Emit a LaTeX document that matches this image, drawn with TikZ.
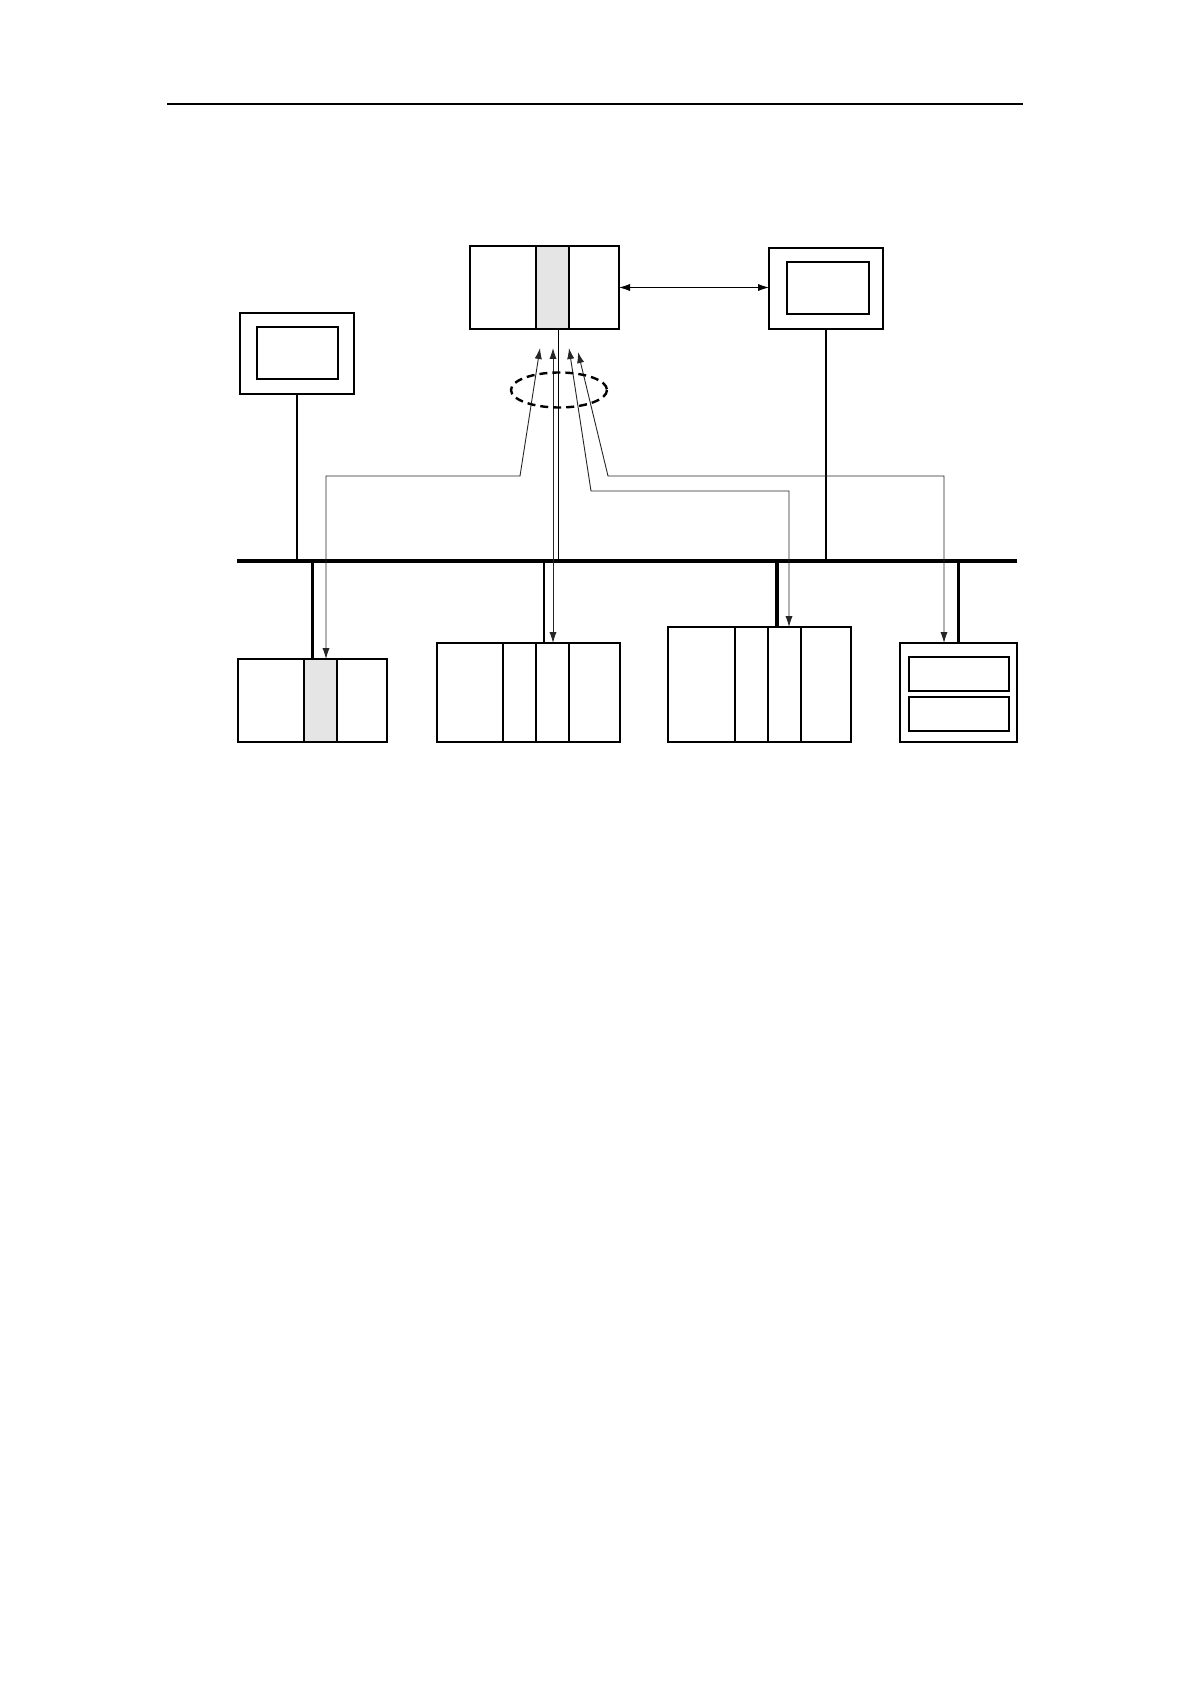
\documentclass[tikz,border=0pt]{standalone}
\usepackage{tikz}
\usetikzlibrary{arrows.meta,positioning}
\definecolor{slotgray}{gray}{0.9}
\tikzset{
  unit/.style={draw, line width=1.4pt, inner sep=0pt, outer sep=0pt, anchor=north west},
  slotline/.style={line width=1pt},
  stem/.style={line width=0.9pt},
  heavystem/.style={line width=1.6pt},
  route/.style={line width=0.45pt, black!85, {Latex[length=5.5pt,width=3.6pt]}-{Latex[length=5.5pt,width=3.6pt]}},
}
\begin{document}
\begin{tikzpicture}[x=0.5pt,y=-0.5pt]
    \useasboundingbox (0,0) rectangle (1190,1684);
    %%Top rule
    \draw[line width=0.6pt] (167,104) to (1023,104);
    %%Controller and monitors
    \node[unit, minimum width=74.5pt, minimum height=41.5pt] (plc) at (470,246) {};
    \filldraw[fill=slotgray, line width=1.4pt] (plc.north west) ++(66,0) rectangle ++(33,83);
    \node[unit, minimum width=57pt, minimum height=40.5pt] (rmon) at (769,248) {};
    \node[unit, minimum width=41pt, minimum height=26pt] (rscreen) at (787,262) {};
    \node[unit, minimum width=57pt, minimum height=40.5pt] (lmon) at (240,313) {};
    \node[unit, minimum width=40.5pt, minimum height=26pt] (lscreen) at (257,327) {};
    \draw[route, black] (plc.east) to (plc.east -| rmon.west);
    %%Bus
    \coordinate (bus west) at (237,561);
    \coordinate (bus east) at (1017,561);
    \draw[line width=1.8pt] (bus west) to (bus east);
    %%Stations
    \node[unit, minimum width=74.5pt, minimum height=41.5pt] (io1) at (238,659) {};
    \filldraw[fill=slotgray, line width=1.4pt] (io1.north west) ++(66,0) rectangle ++(33,83);
    \node[unit, minimum width=91.5pt, minimum height=49.5pt] (io2) at (437,643) {};
    \node[unit, minimum width=91.5pt, minimum height=57.5pt] (io3) at (668,627) {};
    \node[unit, minimum width=58.5pt, minimum height=49.5pt] (io4) at (900,643) {};
    \node[unit, minimum width=50pt, minimum height=17pt] (panel1) at (909,657) {};
    \node[unit, minimum width=50pt, minimum height=17pt] (panel2) at (909,697) {};
    \foreach \dx in {66,99,132} {
      \draw[slotline] (io2.north west) ++(\dx,0) to ++(0,99);
    }
    \foreach \dx in {67,100,133} {
      \draw[slotline] (io3.north west) ++(\dx,0) to ++(0,115);
    }
    %%Stems to the bus
    \draw[stem] (lmon.south) to (lmon.south |- bus west);
    \draw[stem] ([xshift=7pt]plc.south) to ([xshift=7pt]plc.south |- bus west);
    \draw[line width=1.1pt] (rmon.south) to (rmon.south |- bus west);
    \draw[line width=1.1pt] (io1.north) to (io1.north |- bus west);
    \draw[line width=1.1pt] ([xshift=7.75pt]io2.north) to ([xshift=7.75pt]io2.north |- bus west);
    \draw[heavystem] ([xshift=8.75pt]io3.north) to ([xshift=8.75pt]io3.north |- bus west);
    \draw[heavystem] (io4.north) to (io4.north |- bus west);
    %%Data paths
    \coordinate (tip1) at (540,348);
    \coordinate (bend1) at (520,476);
    \coordinate (tip2) at (553,348);
    \coordinate (tip3) at (569,348);
    \coordinate (bend3) at (591,491);
    \coordinate (tip4) at (578,352);
    \coordinate (bend4) at (608,476);
    \draw[route] (tip1) to (bend1) -| ([xshift=6.75pt]io1.north);
    \draw[route] (tip2) to (tip2 |- io2.north);
    \draw[route] (tip3) to (bend3) -| ([xshift=14.75pt]io3.north);
    \draw[route] (tip4) to (bend4) -| ([xshift=-7.25pt]io4.north);
    %%Ring
    \coordinate (ring) at (559,390);
    \draw[line width=1.2pt, dash pattern=on 4pt off 2.5pt] (ring) ellipse [x radius=48, y radius=17.5];
\end{tikzpicture}
\end{document}
